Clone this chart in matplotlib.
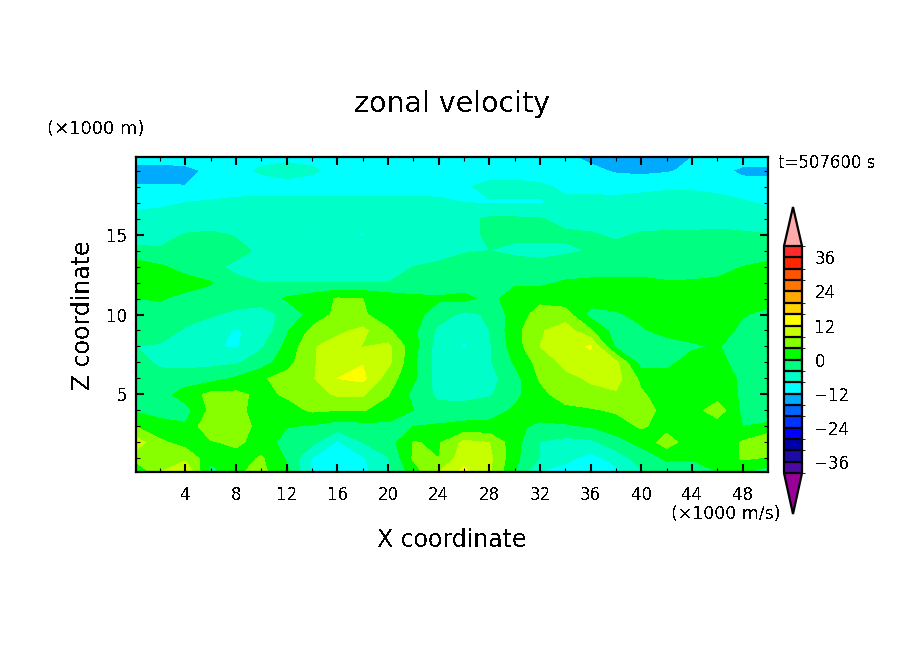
import numpy as np
import matplotlib
matplotlib.use('Agg')
import matplotlib.pyplot as plt
from matplotlib.colors import ListedColormap, BoundaryNorm

# grid of the zonal velocity section (m/s)
x_km = [0.1, 2, 4, 6, 8, 10, 12, 14, 16, 18, 20, 22, 24, 26, 28, 30, 32, 34, 36, 38, 40, 42, 44, 46, 48, 50]
z_km = [0.15, 1, 2, 3, 4, 5, 6, 7, 8, 9, 10, 11, 12, 13, 14, 15, 16, 17, 18, 19, 19.85]

u_wind = [
    [-1, 8, 12.3, -2, 3.5, 5, 1, -9, -10.5, -9, -5, 2, 8, 13, 8.5, 0.2, -8.2, -9.5, -9.5, -9, -4.5, -2, -1.5, 0, 0.2, -2],
    [6, 6.5, 7, 1.5, 2, 4.5, -0.5, -8.2, -10, -8.5, -4.2, 4.5, 4, 10.5, 9, 1, -4.2, -7, -9.5, -6.5, -2, 0.5, 0.2, 1, 4.5, 3.5],
    [10, 4.8, 2.5, 3.5, 5, 2, -1.5, -3, -8.5, -4, -2, 4.2, 3.5, 9, 8, 1.5, -4.2, -5.5, -5, -1.5, 1, 6, 1.5, 0.5, 4.5, 8.5],
    [4, 1.5, 0.5, 7.5, 5.5, 3, 0.2, -0.5, -2, -1.5, -1, 0, 0.5, 1, 1, 1, -1, -0.5, 0.2, 2, 4.5, 2.5, 2, 1.5, 0, 0.5],
    [-0.5, -1.5, -1.5, 5, 5, 2.5, 2.5, 4.5, 4, 4.2, 2.5, 0, -2.5, -2, -1.5, 0.5, 2.5, 2.5, 3.5, 4.5, 6, 2.5, 2, 6.5, -1, -1.5],
    [-2, -2, 2, 5, 5, 3, 4.5, 6.5, 8.5, 8.5, 4.2, -1, -5, -5.5, -4.5, -1, 2.5, 6.5, 7, 7.5, 4.5, 2, 2, 2, -0.5, -1],
    [-2, -3, -2.5, -1.5, 0.5, 3.5, 5.5, 7.5, 12, 13, 6, 0.8, -6, -6, -5.5, -1.5, 4.5, 7, 8.5, 9.5, 3, 1.5, 1.5, 1.5, -0.5, -2],
    [-3, -4.5, -5, -5, -4.5, -2, 2.5, 7.5, 10.5, 11.8, 9, 0.8, -6, -6, -4.5, 0.5, 5.5, 9, 10, 9, -2, -1, 1.5, 1.5, -2, -3],
    [-4, -4.5, -6, -7.5, -8.5, -4.5, 1, 7.5, 10, 7.8, 9, 1.5, -6, -8.3, -4.5, 2, 8, 10, 12.5, -1, -2, -2, -0.5, 0.3, -2, -3],
    [-2, -2, -4.5, -6.5, -8.3, -7, -0.5, 5, 7, 9, 4.5, 1, -5, -7.5, -4, 2.5, 7.5, 10, 4.5, -2, -0.5, 1.5, 1.5, 2, -1, -2],
    [-2, -1.5, -2.5, -3.5, -5, -5.5, -3, 1.5, 5, 4.5, 2, 1.5, -2, -5, -3.5, 2, 5.5, 6, -1.5, -0.5, 1, 2, 2, 2, 0.3, -1],
    [0, 0.3, -1, -1.5, -2, -2.5, 0.5, 2, 4.3, 4, 2.2, 1, 0.5, 1, -1, 1.5, 3, 1.5, 2, 2, 2, 1.5, 1, 1, 1, 1.5],
    [2.5, 2.5, 1.5, 0.3, -3.5, -4, -4, -4, -4, -4, -4, -3, -2.5, -2, -1, -0.5, -1, 0.5, 1, 1, 1, 0.3, 0.3, 0.5, 1, 2],
    [2, 0.5, -1.5, -3.5, -4.5, -5, -5.2, -5.2, -5.2, -5.2, -5, -4, -3.5, -3, -3, -3, -3, -2.5, -2.5, -2, -2, -2, -1.5, -1, 0, 1.5],
    [-3, -3.5, -3.5, -3, -3.2, -4.5, -5, -5.5, -5.5, -5.5, -5.5, -5.5, -5, -4.2, -4, -4.5, -5, -4.5, -3.8, -3, -2.5, -2.8, -3, -2.8, -2.5, -3],
    [-6, -5.5, -3.8, -3.5, -4.2, -5, -5.5, -8.1, -7.5, -8.2, -6, -6, -5.5, -5, -3.5, -3.5, -3, -3.5, -3.7, -4.5, -3.7, -3.5, -3.5, -3.2, -3.5, -3.8],
    [-6.5, -6, -6, -6, -6, -6, -6, -6, -6, -6, -6, -6, -5.5, -5, -3.5, -3.5, -3.8, -5, -5.5, -5.5, -5.5, -5.5, -5.5, -5.5, -5.8, -7],
    [-9.5, -9, -8, -7.5, -7, -7, -7, -7, -7, -7, -7, -7, -7.5, -8, -8.3, -8.3, -8.2, -7.5, -7, -6.8, -6.5, -6.5, -6.5, -6.8, -7.5, -8.5],
    [-11.5, -11.5, -11.8, -10.5, -10, -9.5, -9.5, -9.5, -9.5, -9.5, -9.5, -9.5, -9, -8.5, -7, -7, -7.5, -8.5, -9, -9.5, -9, -8.5, -8.5, -9, -10, -10.5],
    [-15, -15, -14, -10.5, -9, -7.5, -6.5, -7.5, -9, -9, -9.5, -9.5, -9.5, -9.5, -9.5, -9.5, -9.5, -10, -11, -12.5, -13, -12.5, -11, -10.5, -13, -13],
    [-8.5, -8.5, -8.5, -9, -9, -9, -9, -9, -9, -9, -9, -9, -9, -9, -9, -9, -9, -11.2, -13, -13, -13, -13, -12, -9.5, -9.5, -9.5],
]

# contour levels and shading, one colour per 4 m/s band
levels = list(range(-40, 41, 4))
band_colors = ['#4b0aa0', '#1e0aa5', '#0000aa', '#0000ff', '#0033ff', '#0066ff', '#00aaff', '#00ffff',
               '#00ffc8', '#00ff80', '#00ff00', '#88ff00', '#c8ff00', '#ffff00', '#ffd400', '#ffaa00',
               '#ff7700', '#ff5500', '#ff2600', '#ff2a2a']
over_color = '#ffaaaa'
under_color = '#990099'

W, H = 904, 654
plt.rcParams['font.family'] = 'DejaVu Sans'
plt.rcParams['text.antialiased'] = False
plt.rcParams['axes.linewidth'] = 1.6


def px_box(left, top, right, bottom):
    return [left / W, 1 - bottom / H, (right - left) / W, (bottom - top) / H]


def px_text(x, y, s, **kw):
    fig.text(x / W, 1 - y / H, s, va='center', **kw)


fig = plt.figure(figsize=(W / 100, H / 100), dpi=100)
ax = fig.add_axes(px_box(136, 157, 768, 472))

cmap = ListedColormap(band_colors)
cmap.set_over(over_color)
cmap.set_under(under_color)
norm = BoundaryNorm(levels, cmap.N)

cf = ax.contourf(x_km, z_km, np.array(u_wind), levels=levels, cmap=cmap, norm=norm,
                 extend='both', antialiased=False)

ax.set_xlim(0.1, 50)
ax.set_ylim(0.15, 19.85)
ax.set_xticks(range(4, 49, 4))
ax.set_xticks(range(2, 50, 2), minor=True)
ax.set_yticks([5, 10, 15])
ax.set_yticks(range(1, 20), minor=True)
ax.tick_params(which='major', direction='in', length=6, width=1.5, top=True, right=True, labelsize=12, pad=10)
ax.tick_params(which='minor', direction='in', length=3, width=0.8, top=True, right=True)
ax.tick_params(axis='y', which='major', pad=6)

# the box holds the bar and both end triangles
cax = fig.add_axes(px_box(784, 207, 802, 514))
cb = fig.colorbar(cf, cax=cax, ticks=list(range(-36, 37, 12)), drawedges=True, extendfrac=(0.18, 0.172))
cb.outline.set_linewidth(1.6)
cb.dividers.set_linewidth(1.6)
cb.dividers.set_color('black')
cb.ax.tick_params(length=0, labelsize=12, pad=9)

px_text(452, 104, 'zonal velocity', fontsize=20.5, ha='center')
px_text(47, 129, '(\u00d71000 m)', fontsize=13, ha='left')
px_text(778, 163, 't=507600 s', fontsize=12, ha='left')
px_text(781, 514, '(\u00d71000 m/s)', fontsize=12.5, ha='right')
px_text(452, 540, 'X coordinate', fontsize=17, ha='center')
px_text(83, 315, 'Z coordinate', fontsize=17, ha='center', rotation=90)

fig.savefig('out.png', dpi=100)
